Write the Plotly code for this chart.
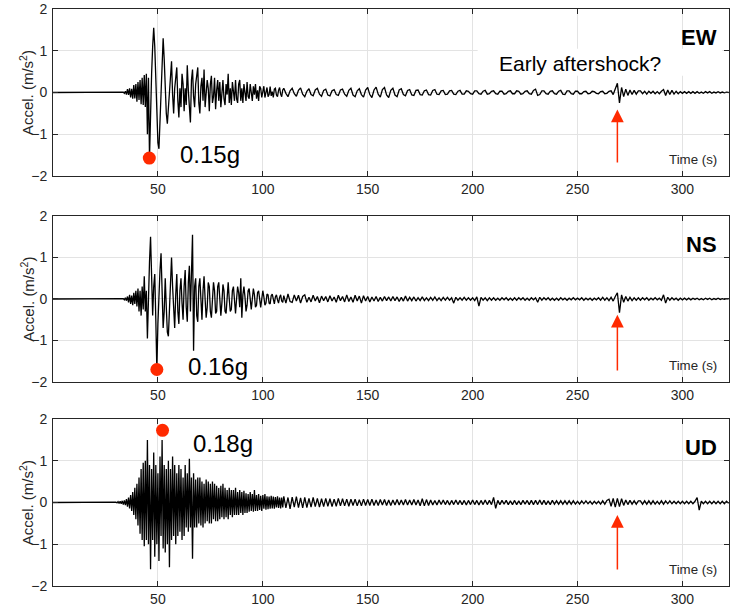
import numpy as np
import plotly.graph_objects as go

# ---------------- data ----------------
# time grids: 0.5 s steps over the strong motion (30-109.5 s), 1 s steps afterwards (110-322 s)
t_fine = np.arange(30, 110, 0.5)
t_coarse = np.arange(110, 323, 1)
x_ticks = [50, 100, 150, 200, 250, 300]
y_ticks = [-2, -1, 0, 1, 2]

ew_fine = [
    0, 0, 0, 0, 0, 0, 0, 0.01, -0.02, 0.03,
    -0.05, 0.08, -0.06, 0.1, -0.12, 0.09, -0.15, 0.18, -0.14, 0.2,
    -0.22, 0.25, -0.18, 0.3, -0.28, 0.35, -0.3, 0.42, -0.35, 0.45,
    -1.0, 0.35, -1.57, -0.4, 0.45, 1.1, 1.55, 1.1, 0.2, -0.7,
    -1.2, -1.35, -0.6, 0.3, 0.9, 1.3, 0.8, -0.1, -0.5, -0.75,
    -0.3, 0.15, 0.45, 0.75, -0.05, -0.5, 0.1, 0.35, 0.6, -0.2,
    -0.6, 0.1, -0.35, 0.45, 0.2, -0.45, 0.1, -0.3, 0.65, 0.05,
    -0.4, -0.72, 0.3, 0.55, -0.1, -0.35, 0.2, 0.4, 0.6, -0.25,
    -0.5, 0.15, 0.35, -0.2, 0.55, -0.35, -0.1, 0.3, 0.1, -0.45,
    0.2, 0.4, -0.25, -0.1, 0.35, -0.4, 0.05, 0.3, -0.2, 0.25,
    -0.35, 0.1, 0.3, -0.15, -0.3, 0.2, -0.05, 0.45, -0.25, 0.1,
    -0.3, 0.25, 0.05, -0.2, 0.3, -0.15, -0.25, 0.2, 0.3, -0.2,
    0.1, -0.25, 0.2, 0.05, -0.2, 0.25, -0.1, -0.15, 0.2, 0.0,
    -0.2, 0.15, -0.05, 0.2, -0.15, 0.05, -0.2, 0.15, 0.1, -0.12,
    0.0, 0.15, -0.12, 0.05, 0.12, -0.1, -0.05, 0.14, -0.08, 0.02,
    -0.12, 0.08, 0.1, -0.06, -0.1, 0.05, 0.12, -0.04, -0.1, 0.06,
]
ew_coarse = [
    0.1, -0.02, -0.1, 0.04, 0.1, -0.03, -0.09, 0.05, 0.11, -0.04,
    -0.1, 0.03, 0.09, -0.05, -0.08, 0.06, 0.1, -0.04, -0.09, 0.05,
    0.08, -0.06, -0.08, 0.04, 0.07, -0.05, -0.07, 0.06, 0.08, -0.04,
    -0.09, 0.05, 0.1, -0.06, -0.1, 0.04, 0.09, -0.05, -0.11, 0.06,
    0.12, -0.05, -0.12, 0.06, 0.13, -0.04, -0.11, 0.07, 0.12, -0.06,
    -0.12, 0.05, 0.1, -0.06, -0.1, 0.06, 0.09, -0.05, -0.08, 0.05,
    0.07, -0.06, -0.07, 0.05, 0.06, -0.05, -0.06, 0.04, 0.06, -0.05,
    -0.06, 0.05, 0.07, -0.04, -0.05, 0.04, 0.05, -0.05, -0.04, 0.04,
    0.05, -0.04, -0.05, 0.03, 0.05, -0.04, -0.04, 0.04, 0.03, -0.03,
    -0.04, 0.04, 0.04, -0.03, -0.04, 0.03, 0.05, -0.04, -0.03, 0.03,
    0.04, -0.03, -0.04, 0.03, 0.03, -0.04, -0.03, 0.03, 0.04, -0.03,
    -0.03, 0.04, 0.03, -0.04, -0.03, 0.03, 0.04, -0.03, -0.04, 0.05,
    0.08, -0.07, -0.05, 0.04, 0.04, -0.03, -0.04, 0.03, 0.04, -0.03,
    -0.04, 0.03, 0.05, -0.04, -0.05, 0.04, 0.04, -0.03, -0.04, 0.03,
    0.03, -0.03, -0.03, 0.02, 0.03, -0.03, -0.02, 0.03, 0.02, -0.02,
    -0.03, 0.02, 0.03, -0.03, -0.02, 0.03, 0.04, -0.05, 0.08, 0.22,
    -0.25, 0.12, -0.1, 0.08, -0.07, 0.06, -0.05, 0.05, -0.04, 0.04,
    0.04, -0.03, 0.03, -0.04, 0.03, -0.02, 0.03, -0.03, 0.02, -0.03,
    0.03, 0.07, -0.07, 0.06, -0.05, 0.05, -0.04, 0.03, -0.03, 0.02,
    -0.02, 0.02, -0.02, 0.02, -0.02, 0.02, -0.02, 0.02, -0.02, 0.01,
    -0.02, 0.02, -0.01, 0.02, -0.02, 0.01, -0.01, 0.02, -0.01, 0.01,
    -0.01, 0.01, 0.0,
]

ns_fine = [
    0, 0, 0, 0, 0, 0, 0, 0.01, -0.02, 0.03,
    -0.04, 0.06, -0.08, 0.1, -0.12, 0.08, -0.15, 0.15, -0.12, 0.2,
    -0.18, 0.25, -0.3, 0.2, -0.4, 0.3, -0.25, 0.55, -0.3, 0.2,
    -0.95, 0.3, 0.9, 1.5, 0.6, -0.4, 0.3, 0.6, -0.5, -1.7,
    -0.6, 0.4, 0.7, 1.1, 0.2, -0.7, -0.3, 0.5, -0.2, -0.8,
    -0.9, -0.2, 0.6, 1.0, 0.3, -0.4, -0.7, 0.1, 0.6, -0.3,
    -0.6, 0.2, 0.5, -0.1, -0.5, 0.3, 0.7, -0.2, -0.55, 0.4,
    0.8, -0.3, 0.6, 1.55, -1.25, 0.3, 0.5, -0.4, -0.55, 0.3,
    0.5, -0.2, -0.5, 0.2, 0.55, 0.0, -0.45, -0.2, 0.4, 0.3,
    -0.3, -0.45, 0.1, 0.4, 0.2, -0.35, -0.3, 0.3, 0.4, -0.1,
    -0.4, -0.1, 0.35, 0.2, -0.3, -0.35, 0.15, 0.4, 0.0, -0.3,
    -0.25, 0.2, 0.3, -0.1, -0.35, 0.0, 0.3, 0.15, -0.2, 0.5,
    -0.45, 0.1, 0.3, 0.05, -0.3, -0.15, 0.2, 0.25, -0.1, -0.25,
    0.0, 0.25, 0.1, -0.2, -0.15, 0.15, 0.2, -0.05, -0.2, 0.0,
    0.2, 0.05, -0.15, -0.1, 0.12, 0.1, -0.1, -0.12, 0.08, 0.12,
    -0.05, -0.12, 0.05, 0.1, -0.02, -0.1, 0.04, 0.1, -0.05, -0.08,
]
ns_coarse = [
    0.08, -0.1, 0.12, -0.06, -0.08, 0.1, -0.05, 0.09, -0.1, 0.06,
    0.1, -0.08, 0.04, -0.07, 0.09, -0.05, 0.06, -0.09, 0.07, -0.04,
    0.06, -0.07, 0.08, -0.05, 0.05, -0.08, 0.09, -0.04, 0.06, -0.07,
    0.1, -0.06, 0.05, -0.08, 0.09, -0.05, 0.07, -0.1, 0.08, -0.05,
    0.06, -0.07, 0.05, -0.05, 0.06, -0.06, 0.04, -0.05, 0.06, -0.04,
    0.05, -0.05, 0.06, -0.04, 0.05, -0.06, 0.04, -0.05, 0.07, -0.05,
    0.04, -0.04, 0.05, -0.05, 0.03, -0.04, 0.05, -0.04, 0.03, -0.04,
    0.04, -0.03, 0.05, -0.04, 0.03, -0.04, 0.04, -0.03, 0.04, -0.03,
    0.03, -0.1, 0.04, -0.03, 0.03, -0.03, 0.04, -0.03, 0.03, -0.03,
    0.03, -0.04, 0.05, -0.17, 0.04, -0.03, 0.03, -0.04, 0.03, -0.03,
    0.03, -0.03, 0.02, -0.03, 0.03, -0.02, 0.03, -0.03, 0.02, -0.03,
    0.03, -0.03, 0.03, -0.02, 0.03, -0.03, 0.02, -0.03, 0.03, -0.02,
    0.03, -0.08, 0.04, -0.03, 0.03, -0.02, 0.03, -0.03, 0.02, -0.03,
    0.02, -0.03, 0.03, -0.02, 0.02, -0.03, 0.02, -0.02, 0.03, -0.02,
    0.02, -0.02, 0.03, -0.03, 0.02, -0.02, 0.02, -0.03, 0.02, -0.02,
    0.03, -0.03, 0.04, -0.03, 0.03, -0.04, 0.04, -0.05, 0.06, 0.15,
    -0.33, 0.1, -0.08, 0.06, -0.05, 0.04, -0.04, 0.03, -0.03, 0.03,
    -0.03, 0.03, -0.02, 0.03, -0.03, 0.02, -0.02, 0.03, -0.02, 0.02,
    -0.03, 0.1, -0.1, 0.04, -0.03, 0.03, -0.02, 0.02, -0.03, 0.02,
    -0.02, 0.02, -0.02, 0.02, -0.02, 0.02, -0.01, 0.02, -0.02, 0.01,
    -0.02, 0.02, -0.01, 0.02, -0.02, 0.01, -0.01, 0.02, -0.01, 0.01,
    -0.01, 0.01, 0.0,
]

ud_fine = [
    0.01, -0.01, 0.02, -0.02, 0.03, -0.03, 0.04, -0.05, 0.05, -0.06,
    0.08, -0.1, 0.12, -0.14, 0.18, -0.2, 0.25, -0.3, 0.35, -0.4,
    0.45, -0.55, 0.6, -0.75, 0.8, -0.9, 0.95, -1.05, 1.0, -0.9,
    1.5, -1.0, 0.9, -1.6, 0.8, -0.9, 1.2, -1.3, 0.9, -1.0,
    0.7, -1.4, 1.1, -0.8, 1.5, -1.1, 0.9, -1.2, 0.8, -1.0,
    1.0, -1.55, 0.8, -0.9, 1.1, -0.8, 0.9, -1.0, 0.7, -0.8,
    0.9, -0.7, 0.8, -0.9, 0.6, -0.8, 0.9, -0.6, 0.7, -0.7,
    1.05, -0.6, 0.6, -1.35, 0.7, -0.6, 0.55, -0.6, 0.6, -0.5,
    0.6, -0.55, 0.5, -0.6, 0.45, -0.5, 0.55, -0.45, 0.5, -0.5,
    0.45, -0.5, 0.5, -0.4, 0.45, -0.45, 0.4, -0.45, 0.35, -0.4,
    0.4, -0.35, 0.45, -0.4, 0.35, -0.35, 0.3, -0.4, 0.35, -0.3,
    0.3, -0.35, 0.3, -0.3, 0.35, -0.3, 0.25, -0.3, 0.3, -0.25,
    0.25, -0.3, 0.28, -0.25, 0.22, -0.25, 0.2, -0.22, 0.25, -0.2,
    0.2, -0.22, 0.3, -0.2, 0.18, -0.2, 0.2, -0.18, 0.16, -0.2,
    0.18, -0.15, 0.2, -0.17, 0.15, -0.16, 0.14, -0.15, 0.16, -0.14,
    0.14, -0.15, 0.13, -0.12, 0.15, -0.13, 0.12, -0.14, 0.12, -0.12,
]
ud_coarse = [
    0.15, -0.13, 0.12, -0.15, 0.13, -0.11, 0.14, -0.12, 0.11, -0.13,
    0.12, -0.12, 0.1, -0.11, 0.12, -0.1, 0.1, -0.11, 0.09, -0.1,
    0.1, -0.09, 0.09, -0.1, 0.08, -0.09, 0.1, -0.08, 0.09, -0.08,
    0.08, -0.09, 0.08, -0.07, 0.08, -0.08, 0.07, -0.08, 0.08, -0.07,
    0.07, -0.07, 0.08, -0.07, 0.06, -0.07, 0.07, -0.06, 0.07, -0.07,
    0.06, -0.07, 0.06, -0.06, 0.07, -0.06, 0.06, -0.06, 0.07, -0.06,
    0.06, -0.06, 0.07, -0.06, 0.06, -0.08, 0.09, -0.08, 0.07, -0.07,
    0.06, -0.06, 0.05, -0.06, 0.06, -0.05, 0.06, -0.05, 0.05, -0.06,
    0.05, -0.05, 0.06, -0.05, 0.05, -0.05, 0.05, -0.06, 0.05, -0.05,
    0.06, -0.05, 0.05, -0.06, 0.05, -0.05, 0.06, -0.05, 0.05, -0.05,
    0.12, -0.14, 0.05, -0.05, 0.05, -0.04, 0.05, -0.05, 0.04, -0.05,
    0.05, -0.05, 0.04, -0.05, 0.05, -0.04, 0.05, -0.05, 0.05, -0.05,
    0.05, -0.05, 0.06, -0.05, 0.05, -0.05, 0.04, -0.05, 0.05, -0.04,
    0.04, -0.04, 0.04, -0.04, 0.04, -0.04, 0.04, -0.04, 0.04, -0.04,
    0.03, -0.04, 0.04, -0.03, 0.04, -0.03, 0.03, -0.04, 0.03, -0.03,
    0.03, -0.04, 0.04, -0.04, 0.05, 0.08, -0.09, 0.1, -0.11, 0.1,
    -0.1, 0.09, -0.07, 0.06, -0.05, 0.05, -0.04, 0.04, -0.04, 0.04,
    0.04, -0.04, 0.04, -0.04, 0.04, -0.04, 0.04, -0.04, 0.03, -0.04,
    0.04, -0.04, 0.04, -0.03, 0.04, -0.03, 0.03, -0.03, 0.03, -0.03,
    0.03, -0.03, 0.03, -0.03, 0.03, -0.03, 0.03, 0.12, -0.18, 0.03,
    -0.03, 0.03, -0.03, 0.03, -0.03, 0.03, -0.03, 0.03, -0.03, 0.03,
    -0.03, 0.03, -0.02,
]

components = ["EW", "NS", "UD"]
fine_values = [ew_fine, ns_fine, ud_fine]
coarse_values = [ew_coarse, ns_coarse, ud_coarse]

# peak markers and their labels
peak_time = [45.9, 49.5, 52.2]
peak_accel = [-1.57, -1.70, 1.73]
peak_label = ["0.15g", "0.16g", "0.18g"]
peak_label_y = [-1.49, -1.62, 1.41]

# aftershock arrows (time, tip, tail)
arrow_time = 269
arrow_tip = [-0.41, -0.38, -0.30]
arrow_tail = [-1.71, -1.76, -1.64]

# ---------------- figure ----------------
RED = "#ff2a00"
FONT = "Liberation Sans, Arial, Helvetica, sans-serif"
domains = [[0.7106, 1.0], [0.3536, 0.6412], [0.0, 0.2894]]

fig = go.Figure()
annotations = []
shapes = []

for i, comp in enumerate(components):
    xa = "x" if i == 0 else f"x{i+1}"
    ya = "y" if i == 0 else f"y{i+1}"
    fv, cv = fine_values[i], coarse_values[i]
    t = np.concatenate([[0.0], t_fine[:len(fv)], t_coarse[:len(cv)]])
    v = np.concatenate([[0.0], fv, cv])
    fig.add_trace(go.Scatter(x=t, y=v, mode="lines", line=dict(color="black", width=1.3),
                             xaxis=xa, yaxis=ya, showlegend=False, hoverinfo="skip"))
    fig.add_trace(go.Scatter(x=[peak_time[i]], y=[peak_accel[i]], mode="markers",
                             marker=dict(color=RED, size=13, line=dict(width=0)),
                             xaxis=xa, yaxis=ya, showlegend=False, hoverinfo="skip"))

    axis_common = dict(showline=True, linecolor="#262626", linewidth=1, mirror="ticks",
                       ticks="inside", ticklen=5, tickwidth=1, tickcolor="#262626",
                       showgrid=True, gridcolor="#e3e3e3", gridwidth=1, zeroline=False,
                       automargin=False,
                       tickfont=dict(family=FONT, size=14, color="#262626"))
    fig.update_layout(**{
        ("xaxis" if i == 0 else f"xaxis{i+1}"): dict(
            axis_common, range=[0, 322.2], tickvals=x_ticks, anchor=ya),
        ("yaxis" if i == 0 else f"yaxis{i+1}"): dict(
            axis_common, range=[-2, 2], tickvals=y_ticks, domain=domains[i], anchor=xa,
            ticklabelstandoff=2),
    })

    # y-axis title placed beside the tick labels
    annotations.append(dict(x=-0.039, y=sum(domains[i]) / 2, xref="paper", yref="paper",
                            text="Accel. (m/s<sup>2</sup>)", textangle=-90, showarrow=False,
                            xanchor="center", yanchor="middle",
                            font=dict(family=FONT, size=15, color="#262626")))

    xr, yr = xa, ya
    annotations.append(dict(x=peak_time[i] + 13.8, y=peak_label_y[i], xref=xr, yref=yr,
                            text=peak_label[i], showarrow=False, xanchor="left", yanchor="middle",
                            font=dict(family=FONT, size=24, color="black")))
    annotations.append(dict(x=317.6, y=1.32, xref=xr, yref=yr, text=f"<b>{comp}</b>",
                            showarrow=False, xanchor="right", yanchor="middle",
                            font=dict(family=FONT, size=22, color="black")))
    annotations.append(dict(x=317.5, y=-1.6, xref=xr, yref=yr, text="Time (s)",
                            showarrow=False, xanchor="right", yanchor="middle",
                            font=dict(family=FONT, size=13.3, color="#262626")))
    annotations.append(dict(x=arrow_time, y=arrow_tip[i], ax=arrow_time, ay=arrow_tail[i],
                            xref=xr, yref=yr, axref=xr, ayref=yr, text="", showarrow=True,
                            arrowhead=2, arrowsize=1.7, arrowwidth=1.5, arrowcolor=RED))

annotations.append(dict(x=251, y=0.7, xref="x", yref="y", text="Early aftershock?",
                        showarrow=False, xanchor="center", yanchor="middle",
                        font=dict(family=FONT, size=21, color="black")))
shapes.append(dict(type="rect", xref="x", yref="y", x0=202.4, x1=319, y0=0.4, y1=1.05,
                   fillcolor="white", line=dict(width=0), layer="between"))

fig.update_layout(width=735, height=606, margin=dict(l=53, r=6, t=9, b=20),
                  paper_bgcolor="white", plot_bgcolor="white",
                  font=dict(family=FONT, color="#262626"),
                  annotations=annotations, shapes=shapes)

fig.write_html("out.html")
